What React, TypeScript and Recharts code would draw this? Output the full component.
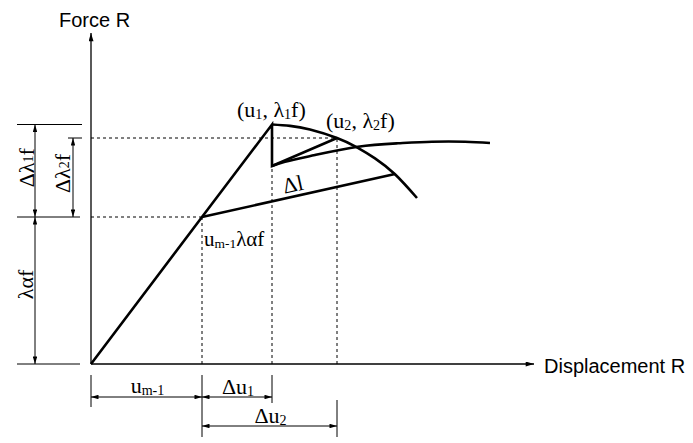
import React from 'react'
import { ComposedChart, Line, XAxis, YAxis, ReferenceLine, ReferenceDot, Customized } from 'recharts'

// load path: origin -> u(m-1) -> first predictor (u1) -> corrected -> (u2)
const pathU = [0, 11.1, 18.1, 18.1, 24.6]
const pathF = [0, 14.7, 23.95, 19.8, 22.6]
// arc-length chord Δl
const chordU = [11.1, 30.4]
const chordF = [14.7, 19.0]
// equilibrium path
const equilU = [18.1, 19.4, 22.4, 26.7, 30.7, 34.1, 37.4, 39.9]
const equilF = [19.8, 20.23, 20.9, 21.73, 22.07, 22.23, 22.23, 22.1]
// constraint arc
const arcU = [18.1, 19.9, 21.9, 24.6, 26.6, 28.4, 30.4, 32.6]
const arcF = [23.95, 23.81, 23.45, 22.6, 21.67, 20.56, 18.97, 16.6]

const W = 693
const H = 443
const SERIF = '"Liberation Serif", "Times New Roman", serif'
const SANS = '"Liberation Sans", Arial, sans-serif'

const pts = (u: number[], f: number[]) => u.map((x, i) => ({ x, y: f[i] }))

const uM1 = pathU[1]
const u1 = pathU[2]
const u2 = pathU[4]
const lamA = pathF[1]
const lam1 = pathF[2]
const lamQ = pathF[3]
const lam2 = pathF[4]

// dimension rails (data units)
const railL1 = -5.6
const railL2 = -1.8
const railB1 = -3.3
const railB2 = -6.2
const xEnd = 44.3
const yEnd = 33.1

type Part = [string, boolean?]

function Rich({ x, y, parts, size = 22, anchor = 'start', rotate = 0, central = false, family = SERIF }: any) {
  let shift = 0
  return (
    <text
      x={x}
      y={y}
      fontSize={size}
      fontFamily={family}
      textAnchor={anchor}
      dominantBaseline={central ? 'central' : 'alphabetic'}
      transform={rotate ? `rotate(${rotate} ${x} ${y})` : undefined}
      fill="#000"
    >
      {(parts as Part[]).map(([t, sub], i) => {
        const dy = (sub ? 2 : 0) - shift
        shift = sub ? 2 : 0
        return (
          <tspan key={i} dy={dy || undefined} fontSize={sub ? size * 0.64 : undefined}>
            {t}
          </tspan>
        )
      })}
    </text>
  )
}

const seg = (key: string, a: number[], b: number[], w: number, opts: any = {}) => (
  <ReferenceLine
    key={key}
    segment={[{ x: a[0], y: a[1] }, { x: b[0], y: b[1] }]}
    ifOverflow="visible"
    shape={(p: any) => (
      <line
        x1={p.x1}
        y1={p.y1}
        x2={p.x2}
        y2={p.y2}
        stroke="#000"
        strokeWidth={w}
        strokeDasharray={opts.dash}
        markerStart={opts.start}
        markerEnd={opts.end}
      />
    )}
  />
)

const label = (key: string, at: number[], dx: number, dy: number, props: any) => (
  <ReferenceDot
    key={key}
    x={at[0]}
    y={at[1]}
    r={0}
    ifOverflow="visible"
    shape={(p: any) => <Rich x={p.cx + dx} y={p.cy + dy} {...props} />}
  />
)

export default function App() {
  const dim = { start: 'url(#arrDim)', end: 'url(#arrDim)' }
  return (
    <div style={{ position: 'absolute', left: 0, top: 0, width: W, height: H, background: '#fff' }}>
      <ComposedChart width={W} height={H} margin={{ top: 0, right: 0, bottom: 0, left: 0 }}>
        <Customized
          component={() => (
            <defs>
              <marker id="arrAxis" viewBox="0 0 10 6" refX="10" refY="3" markerWidth="10" markerHeight="5"
                markerUnits="userSpaceOnUse" orient="auto-start-reverse">
                <path d="M0,0 L10,3 L0,6 z" fill="#000" />
              </marker>
              <marker id="arrDim" viewBox="0 0 10 6" refX="10" refY="3" markerWidth="8" markerHeight="4.5"
                markerUnits="userSpaceOnUse" orient="auto-start-reverse">
                <path d="M0,0 L10,3 L0,6 z" fill="#000" />
              </marker>
            </defs>
          )}
        />
        <XAxis type="number" dataKey="x" domain={[-9.1, 60.2]} hide allowDataOverflow />
        <YAxis type="number" dataKey="y" domain={[-7.9, 36.4]} hide allowDataOverflow />

        {/* axes */}
        {seg('ax', [0, 0], [xEnd, 0], 1.3, { end: 'url(#arrAxis)' })}
        {seg('ay', [0, 0], [0, yEnd], 1.3, { end: 'url(#arrAxis)' })}

        {/* dashed guides */}
        {seg('d1', [0, lam2], [u2, lam2], 1, { dash: '3 3' })}
        {seg('d2', [0, lamA], [uM1, lamA], 1, { dash: '3 3' })}
        {seg('d3', [uM1, 0], [uM1, lamA], 1, { dash: '3 3' })}
        {seg('d4', [u1, 0], [u1, lamQ], 1, { dash: '3 3' })}
        {seg('d5', [u2, 0], [u2, lam2], 1, { dash: '3 3' })}

        {/* left dimensions */}
        {seg('lt1', [-7.4, lam1], [-0.9, lam1], 1)}
        {seg('lt2', [-2.3, lam2], [-0.9, lam2], 1)}
        {seg('lt3', [-7.4, lamA], [-1.1, lamA], 1)}
        {seg('lt4', [-7.4, 0], [-1.1, 0], 1)}
        {seg('la1', [railL1, lamA], [railL1, lam1], 1, dim)}
        {seg('la2', [railL1, 0], [railL1, lamA], 1, dim)}
        {seg('la3', [railL2, lamA], [railL2, lam2], 1, dim)}

        {/* bottom dimensions */}
        {seg('bt1', [0, -1.1], [0, -4.3], 1)}
        {seg('bt2', [uM1, -1.1], [uM1, -7.3], 1)}
        {seg('bt3', [u1, -1.1], [u1, -3.9], 1)}
        {seg('bt4', [u2, -3.6], [u2, -7.3], 1)}
        {seg('ba1', [0, railB1], [uM1, railB1], 1, dim)}
        {seg('ba2', [uM1, railB1], [u1, railB1], 1, dim)}
        {seg('ba3', [uM1, railB2], [u2, railB2], 1, dim)}

        {/* curves */}
        <Line data={pts(chordU, chordF)} dataKey="y" type="linear" stroke="#000" strokeWidth={2.6} dot={false} activeDot={false} isAnimationActive={false} />
        <Line data={pts(equilU, equilF)} dataKey="y" type="natural" stroke="#000" strokeWidth={2.6} dot={false} activeDot={false} isAnimationActive={false} />
        <Line data={pts(arcU, arcF)} dataKey="y" type="natural" stroke="#000" strokeWidth={2.6} dot={false} activeDot={false} isAnimationActive={false} />
        <Line data={pts(pathU, pathF)} dataKey="y" type="linear" stroke="#000" strokeWidth={2.6} dot={false} activeDot={false} isAnimationActive={false} />

        {/* labels */}
        {label('force', [0, yEnd], -32, -6.3, { parts: [['Force R']], family: SANS, size: 20 })}
        {label('disp', [xEnd, 0], 10, 8.7, { parts: [['Displacement R']], family: SANS, size: 20 })}
        {label('p1', [u1, lam1], -35, -7.5, { parts: [['(u'], ['1', true], [', λ'], ['1', true], ['f)']] })}
        {label('p2', [u2, lam2], -11, -10, { parts: [['(u'], ['2', true], [', λ'], ['2', true], ['f)']] })}
        {label('dl', [(chordU[0] + chordU[1]) / 2, (chordF[0] + chordF[1]) / 2], -4, -4, {
          parts: [['Δl']], anchor: 'middle', rotate: -12.5,
        })}
        {label('pa', [uM1, lamA], 2, 29, { parts: [['u'], ['m-1', true], ['λα'], ['f']], size: 21 })}
        {label('dl1', [railL1, (lamA + lam1) / 2], -9, -3, {
          parts: [['Δλ'], ['1', true], ['f']], anchor: 'middle', rotate: -90, central: true,
        })}
        {label('dl2', [railL2, (lamA + lam2) / 2], -11, -4, {
          parts: [['Δλ'], ['2', true], ['f']], anchor: 'middle', rotate: -90, central: true,
        })}
        {label('la', [railL1, lamA / 2], -10, -6, {
          parts: [['λα'], ['f']], anchor: 'middle', rotate: -90, central: true,
        })}
        {label('um1', [uM1 / 2, railB1], 1, -4, { parts: [['u'], ['m-1', true]], anchor: 'middle' })}
        {label('du1', [(uM1 + u1) / 2, railB1], 1, -3, { parts: [['Δu'], ['1', true]], anchor: 'middle' })}
        {label('du2', [(uM1 + u2) / 2, railB2], 1, -3, { parts: [['Δu'], ['2', true]], anchor: 'middle' })}
      </ComposedChart>
    </div>
  )
}
